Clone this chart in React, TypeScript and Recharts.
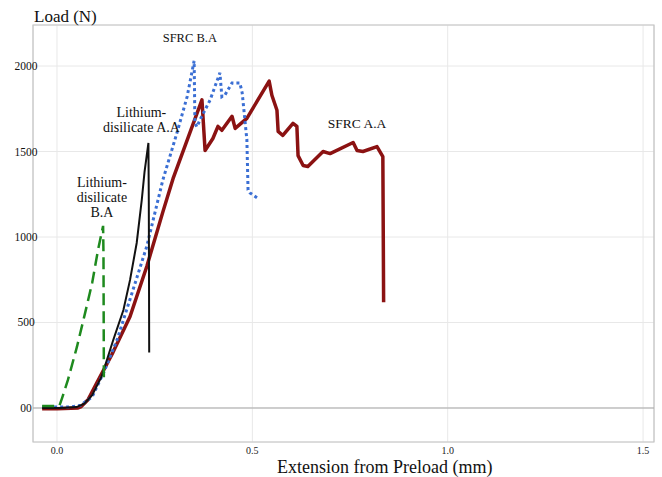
import { LineChart, Line, XAxis, YAxis, CartesianGrid, ReferenceLine, ReferenceArea, ReferenceDot } from 'recharts';

// extension (mm) / load (N)
const sfrcAA = [
  { x: -0.038, y: -5 }, { x: 0.0, y: -5 }, { x: 0.054, y: 0 }, { x: 0.062, y: 8 },
  { x: 0.08, y: 50 }, { x: 0.102, y: 147 }, { x: 0.143, y: 324 }, { x: 0.187, y: 535 },
  { x: 0.23, y: 829 }, { x: 0.271, y: 1147 }, { x: 0.297, y: 1341 }, { x: 0.371, y: 1802 },
  { x: 0.379, y: 1506 }, { x: 0.399, y: 1576 }, { x: 0.412, y: 1647 }, { x: 0.422, y: 1624 },
  { x: 0.448, y: 1706 }, { x: 0.456, y: 1635 }, { x: 0.486, y: 1694 }, { x: 0.543, y: 1912 },
  { x: 0.55, y: 1829 }, { x: 0.563, y: 1741 }, { x: 0.566, y: 1618 }, { x: 0.578, y: 1594 },
  { x: 0.604, y: 1665 }, { x: 0.614, y: 1647 }, { x: 0.617, y: 1476 }, { x: 0.63, y: 1418 },
  { x: 0.642, y: 1412 }, { x: 0.681, y: 1500 }, { x: 0.699, y: 1488 }, { x: 0.758, y: 1553 },
  { x: 0.768, y: 1506 }, { x: 0.783, y: 1500 }, { x: 0.819, y: 1529 }, { x: 0.834, y: 1470 },
  { x: 0.836, y: 618 },
];

const sfrcBA = [
  { x: -0.038, y: 5 }, { x: 0.03, y: 5 }, { x: 0.06, y: 15 }, { x: 0.09, y: 65 },
  { x: 0.12, y: 210 }, { x: 0.154, y: 400 }, { x: 0.195, y: 694 }, { x: 0.23, y: 947 },
  { x: 0.271, y: 1334 }, { x: 0.307, y: 1609 }, { x: 0.333, y: 1820 }, { x: 0.351, y: 2030 },
  { x: 0.353, y: 1667 }, { x: 0.358, y: 1644 }, { x: 0.366, y: 1685 }, { x: 0.392, y: 1802 },
  { x: 0.417, y: 1960 }, { x: 0.422, y: 1820 }, { x: 0.43, y: 1831 }, { x: 0.448, y: 1901 },
  { x: 0.468, y: 1901 }, { x: 0.474, y: 1843 }, { x: 0.486, y: 1568 }, { x: 0.489, y: 1275 },
  { x: 0.494, y: 1258 }, { x: 0.512, y: 1229 },
];

const lithiumAA = [
  { x: -0.038, y: 0 }, { x: 0.008, y: 0 }, { x: 0.05, y: 5 }, { x: 0.07, y: 25 },
  { x: 0.09, y: 75 }, { x: 0.114, y: 183 }, { x: 0.144, y: 398 }, { x: 0.17, y: 573 },
  { x: 0.187, y: 749 }, { x: 0.204, y: 965 }, { x: 0.217, y: 1217 }, { x: 0.224, y: 1380 },
  { x: 0.234, y: 1550 }, { x: 0.235, y: 1200 }, { x: 0.236, y: 324 },
];

const lithiumBA = [
  { x: -0.038, y: 12 }, { x: 0.006, y: 12 }, { x: 0.013, y: 58 }, { x: 0.028, y: 164 },
  { x: 0.051, y: 357 }, { x: 0.072, y: 556 }, { x: 0.09, y: 731 }, { x: 0.105, y: 924 },
  { x: 0.118, y: 1065 }, { x: 0.119, y: 900 }, { x: 0.12, y: 160 },
];

const xTicks = [0, 0.5, 1.0, 1.5];
const yTicks = [0, 500, 1000, 1500, 2000];
const xDomain = [-0.0614, 1.528];
const yDomain = [-199, 2240];

const serif = '"Liberation Serif", "Times New Roman", serif';

const labelShape = (lines: string[], size: number) => (p: any) => (
  <text x={p.cx} y={p.cy} textAnchor="middle" fontFamily={serif} fontSize={size} fill="#111">
    {lines.map((l, i) => (
      <tspan key={i} x={p.cx} dy={i === 0 ? 0 : 15}>{l}</tspan>
    ))}
  </text>
);

const XTick = ({ x, payload }: any) => (
  <text x={x} y={454} textAnchor="middle" fontFamily={serif} fontSize={10} fill="#222">
    {payload.value.toFixed(1)}
  </text>
);

const YTick = ({ y, payload }: any) => (
  <text x={26} y={y} dy={4} textAnchor="middle" fontFamily={serif} fontSize={11.5} fill="#111">
    {payload.value === 0 ? '00' : payload.value}
  </text>
);

export default function App() {
  return (
    <div style={{ position: 'absolute', left: 0, top: 0, width: 662, height: 477, background: '#fff' }}>
      <LineChart width={662} height={477} margin={{ top: 25, right: 8, left: 0, bottom: 0 }}>
        <CartesianGrid stroke="#e8e8e8" />
        <XAxis
          type="number"
          dataKey="x"
          domain={xDomain}
          ticks={xTicks}
          allowDataOverflow
          axisLine={false}
          tickLine={false}
          height={35}
          tick={<XTick />}
        />
        <YAxis
          type="number"
          domain={yDomain}
          ticks={yTicks}
          allowDataOverflow
          axisLine={false}
          tickLine={false}
          width={33}
          tick={<YTick />}
        />
        <ReferenceArea x1={xDomain[0]} x2={xDomain[1]} y1={yDomain[0]} y2={yDomain[1]} fill="none" stroke="#c4c4c4" strokeWidth={1.2} />
        <ReferenceLine y={0} stroke="#a8a8a8" strokeWidth={1.2} />
        <Line data={sfrcAA} dataKey="y" stroke="#8b1212" strokeWidth={3.5} dot={false} isAnimationActive={false} strokeLinejoin="round" />
        <Line data={sfrcBA} dataKey="y" stroke="#3b6fd4" strokeWidth={3} strokeDasharray="3 3" dot={false} isAnimationActive={false} />
        <Line data={lithiumAA} dataKey="y" stroke="#111" strokeWidth={2} dot={false} isAnimationActive={false} />
        <Line data={lithiumBA} dataKey="y" stroke="#1e8a1e" strokeWidth={2.5} strokeDasharray="12 6" dot={false} isAnimationActive={false} />
        <ReferenceDot x={0.34} y={2141} r={1} shape={labelShape(['SFRC B.A'], 12.5)} />
        <ReferenceDot x={0.216} y={1702} r={1} shape={labelShape(['Lithium-', 'disilicate A.A'], 14)} />
        <ReferenceDot x={0.115} y={1293} r={1} shape={labelShape(['Lithium-', 'disilicate', 'B.A'], 14)} />
        <ReferenceDot x={0.768} y={1638} r={1} shape={labelShape(['SFRC A.A'], 13.5)} />
      </LineChart>
      <svg width={662} height={477} style={{ position: 'absolute', left: 0, top: 0, pointerEvents: 'none' }}>
        <text x={34} y={22} fontFamily={serif} fontSize={17} fill="#111">Load (N)</text>
        <text x={277} y={473} fontFamily={serif} fontSize={18} fill="#111">Extension from Preload (mm)</text>
      </svg>
    </div>
  );
}
